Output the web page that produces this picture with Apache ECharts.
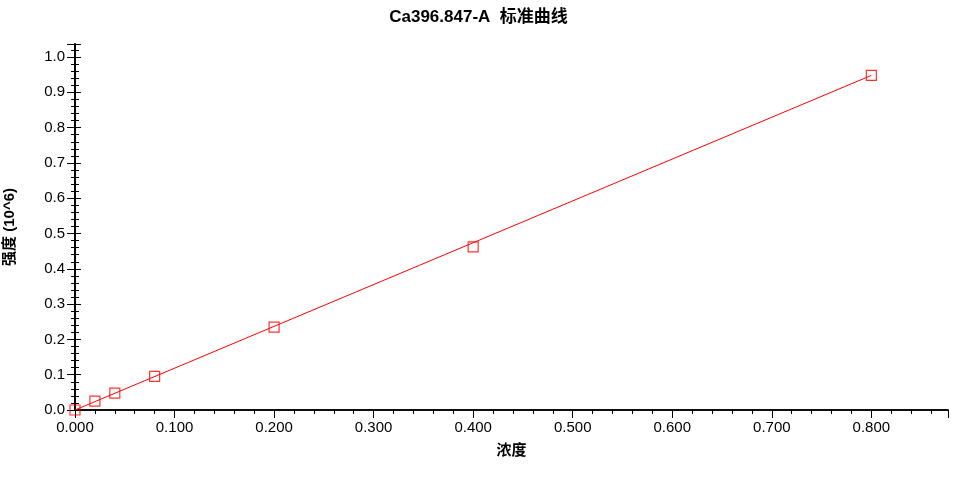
<!DOCTYPE html>
<html><head><meta charset="utf-8">
<script src="https://cdn.jsdelivr.net/npm/echarts@6/dist/echarts.min.js"></script>
<style>html,body{margin:0;padding:0;background:#fff}#c{width:957px;height:479px}</style>
</head><body><div id="c"></div>
<script>
var conc = [0, 0.02, 0.04, 0.08, 0.2, 0.4, 0.8];
var intensity = [0, 0.025, 0.048, 0.095, 0.235, 0.462, 0.948];
var fitLine = [[0, 0], [0.8, 0.948]];
var f = '"Liberation Sans", Arial, "Noto Sans CJK SC", sans-serif';
var ax = {show:true,lineStyle:{color:'#000',width:1.5}};
var chart = echarts.init(document.getElementById('c'));
function xBase(){return {type:'value',min:0,max:0.877,interval:0.1,splitLine:{show:false},axisLine:ax,minorTick:{show:true,splitNumber:5,length:4,lineStyle:{color:'#000'}}};}
function yBase(){return {type:'value',min:0,max:1.037,interval:0.1,splitLine:{show:false},axisLine:ax,minorTick:{show:true,splitNumber:5,length:4,lineStyle:{color:'#000'}}};}
chart.setOption({
  animation:false,
  title:{text:'Ca396.847-A  标准曲线',left:'center',top:4,textStyle:{fontFamily:f,fontSize:17,fontWeight:'bold',color:'#000'}},
  grid:{left:75,right:9,top:44,bottom:69,containLabel:false,outerBoundsMode:'none'},
  xAxis:[
    Object.assign(xBase(),{position:'bottom',name:'浓度',nameLocation:'middle',nameGap:33,nameTextStyle:{fontFamily:f,fontSize:15,fontWeight:'bold',color:'#000'},
      axisTick:{length:8,lineStyle:{color:'#000'}},axisLabel:{fontFamily:f,fontSize:15,color:'#000',margin:10,formatter:function(v){return v.toFixed(3);},showMaxLabel:false}}),
    Object.assign(xBase(),{position:'top',axisTick:{show:true,inside:true,length:8,lineStyle:{color:'#000'}},axisLabel:{show:false}})
  ],
  yAxis:[
    Object.assign(yBase(),{position:'left',name:'强度 (10^6)',nameLocation:'middle',nameGap:58,nameTextStyle:{fontFamily:f,fontSize:15,fontWeight:'bold',color:'#000'},
      axisTick:{length:6,lineStyle:{color:'#000'}},axisLabel:{fontFamily:f,fontSize:15,color:'#000',margin:10,formatter:function(v){return v.toFixed(1);},showMaxLabel:false}}),
    Object.assign(yBase(),{position:'right',axisTick:{show:true,inside:true,length:8,lineStyle:{color:'#000'}},axisLabel:{show:false}}),
    Object.assign(yBase(),{position:'left',axisTick:{show:true,inside:true,length:6,lineStyle:{color:'#000'}},axisLabel:{show:false}})
  ],
  series:[
    {type:'line',data:fitLine,symbol:'none',lineStyle:{color:'#f00',width:1},silent:true},
    {type:'scatter',data:conc.map(function(c,i){return [c,intensity[i]];}),symbol:'rect',symbolSize:10,
     itemStyle:{color:'rgba(0,0,0,0)',borderColor:'#f00',borderWidth:1.2}},
    {type:'scatter',xAxisIndex:1,yAxisIndex:1,data:[[0,0]],symbolSize:0,silent:true},
    {type:'scatter',xAxisIndex:0,yAxisIndex:2,data:[[0,0]],symbolSize:0,silent:true}
  ]
});
</script></body></html>
